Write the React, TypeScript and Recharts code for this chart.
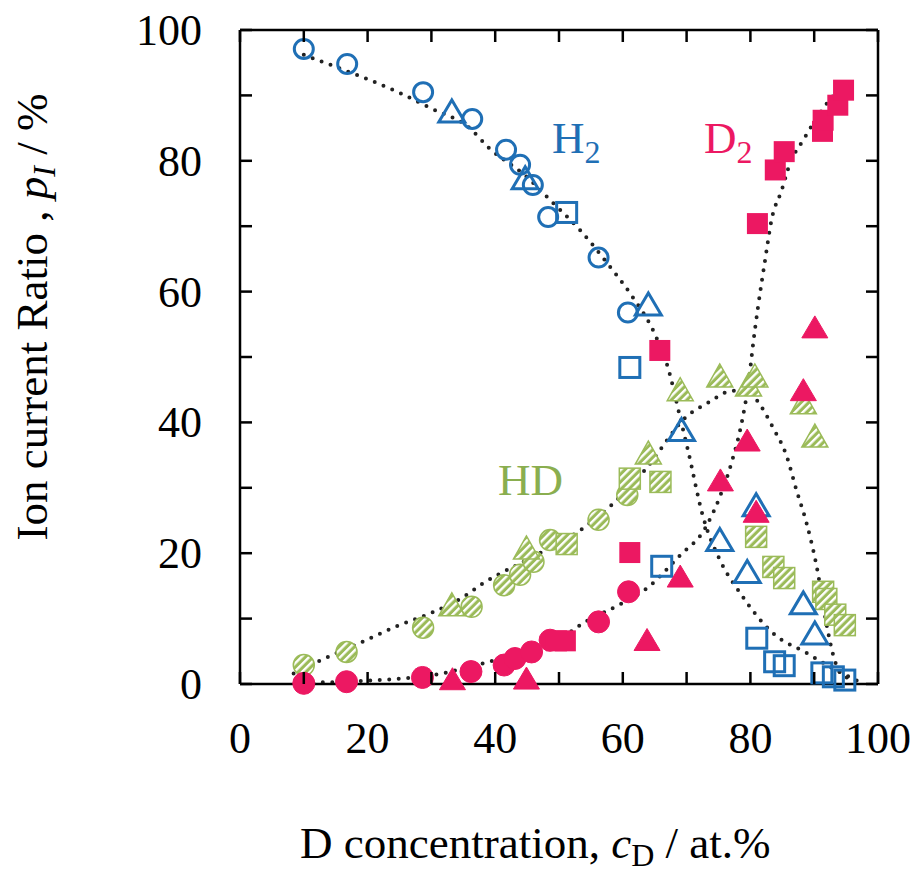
import { ComposedChart, Scatter, Line, XAxis, YAxis } from 'recharts';

const BLUE = '#1f6fb5';
const PINK = '#ec1862';
const GREEN = '#9bbb59';
const SERIF = '"Liberation Serif", "Times New Roman", serif';

type Pt = { x: number; y: number };
const pts = (a: number[][]): Pt[] => a.map(([x, y]) => ({ x, y }));

// H2 (blue, open markers)
const h2Circles = pts([[10, 97.1], [16.8, 94.8], [28.7, 90.5], [36.4, 86.4], [41.7, 81.7], [43.9, 79.4], [45.9, 76.3], [48.3, 71.4], [56.2, 65.2], [60.8, 56.8]]);
const h2Triangles = pts([[33.2, 87.3], [44.7, 77.1], [64.0, 57.8], [69.2, 38.6], [75.2, 21.8], [79.5, 16.9], [80.9, 27.1], [88.3, 12.1], [90.1, 7.5]]);
const h2Squares = pts([[51.2, 72.1], [61.1, 48.4], [66.1, 18.0], [81.0, 7.0], [83.8, 3.4], [85.3, 2.8], [91.2, 1.7], [93.0, 1.1], [94.8, 0.6]]);

// D2 (pink, filled markers)
const d2Circles = pts([[10, 0.1], [16.7, 0.35], [28.6, 1.0], [36.2, 1.9], [41.4, 2.9], [43.1, 3.9], [45.7, 4.9], [48.6, 6.7], [56.2, 9.5], [60.9, 14.1]]);
const d2Triangles = pts([[33.3, 0.5], [44.9, 0.6], [63.8, 6.5], [69.0, 16.2], [75.3, 30.9], [79.5, 37.0], [80.9, 26.1], [88.3, 44.7], [90.1, 54.3]]);
const d2Squares = pts([[49.6, 6.6], [51.0, 6.6], [61.1, 20.1], [65.8, 51.0], [81.1, 70.4], [83.9, 78.6], [85.3, 81.4], [91.3, 84.5], [91.4, 86.2], [93.7, 88.5], [94.6, 90.8]]);

// HD (green, hatched markers)
const hdCircles = pts([[10, 2.9], [16.7, 4.9], [28.7, 8.6], [36.3, 11.8], [41.4, 15.1], [43.9, 16.7], [46.0, 18.7], [48.6, 22.0], [56.2, 25.1], [60.7, 28.9]]);
const hdTriangles = pts([[33.2, 11.8], [44.9, 20.5], [64.0, 35.0], [69.0, 44.7], [75.2, 46.8], [79.7, 45.4], [80.7, 46.8], [88.3, 42.7], [90.1, 37.6]]);
const hdSquares = pts([[51.2, 21.4], [61.1, 31.4], [65.9, 30.9], [80.9, 22.5], [83.6, 17.9], [85.3, 16.2], [91.4, 14.1], [91.9, 13.0], [93.3, 10.6], [94.8, 9.0]]);

// dotted guide curves
const h2Fit = pts([[10, 96.2], [16, 94], [25, 90.4], [30, 88], [36, 85], [39, 82], [45, 77.5], [48.6, 74], [53.3, 69.4], [58, 63.8], [61.1, 59.8], [65.3, 52.9], [67.1, 48.3], [69, 40.7], [70.2, 35.8], [72.6, 25.5], [75.2, 19], [78.4, 13.9], [83.5, 7.8], [88.9, 4.7], [92.5, 2.6], [97.2, 0.3]]);
const d2Fit = pts([[10, 0.2], [15, 0.3], [20, 0.5], [25, 0.8], [30, 1.3], [33, 1.9], [39, 3.4], [45, 5], [50, 6.8], [53.8, 9.3], [59.8, 12.3], [63.7, 14.6], [69, 19.7], [72.9, 23.8], [75.2, 28.6], [77, 33.7], [78.6, 39.8], [79.7, 46], [80.5, 52.6], [81.2, 57.7], [82.3, 64.8], [83.3, 70.9], [84.9, 75.5], [86.2, 79.6], [88.3, 83.2], [91.4, 88], [93, 90]]);
const hdFit = pts([[8.4, 1.6], [12.8, 3.7], [19.3, 6.5], [24.5, 8.8], [29.8, 10.8], [35, 13.3], [38.1, 15.4], [45, 19], [53.3, 23.5], [58.5, 27.6], [63.7, 33], [70, 40.9], [73.7, 43.2], [76.5, 44.7], [79.4, 45], [81, 43.4], [83.6, 39.1], [85.7, 34.8], [87.2, 29.7], [88.8, 24.6], [90.4, 17.9], [91.9, 9.3], [92.9, 4.7], [94.2, 1.6], [97.2, 0.35]]);

const xTicks = [0, 10, 20, 30, 40, 50, 60, 70, 80, 90, 100];
const yTicks = [0, 10, 20, 30, 40, 50, 60, 70, 80, 90, 100];

const openCircle = (c: string) => (p: any) => <circle cx={p.cx} cy={p.cy} r={9.5} fill="none" stroke={c} strokeWidth={3} />;
const fillCircle = (c: string) => (p: any) => <circle cx={p.cx} cy={p.cy} r={11} fill={c} stroke={c} strokeWidth={1} />;
const openTri = (c: string) => (p: any) => (
  <polygon points={`${p.cx},${p.cy - 13} ${p.cx - 13},${p.cy + 9} ${p.cx + 13},${p.cy + 9}`} fill="none" stroke={c} strokeWidth={3} strokeLinejoin="miter" />
);
const fillTri = (c: string) => (p: any) => (
  <polygon points={`${p.cx},${p.cy - 13} ${p.cx - 13},${p.cy + 9} ${p.cx + 13},${p.cy + 9}`} fill={c} stroke={c} strokeWidth={1} />
);
const openSq = (c: string) => (p: any) => <rect x={p.cx - 10} y={p.cy - 10} width={20} height={20} fill="none" stroke={c} strokeWidth={3} />;
const fillSq = (c: string) => (p: any) => <rect x={p.cx - 10.5} y={p.cy - 10.5} width={21} height={21} fill={c} />;
const HATCH = 'url(#hd-hatch)';
const hatchCircle = (p: any) => <circle cx={p.cx} cy={p.cy} r={10.5} fill={HATCH} stroke={GREEN} strokeWidth={1.5} />;
const hatchTri = (p: any) => (
  <polygon points={`${p.cx},${p.cy - 14} ${p.cx - 13},${p.cy + 9} ${p.cx + 13},${p.cy + 9}`} fill={HATCH} stroke={GREEN} strokeWidth={1.5} />
);
const hatchSq = (p: any) => <rect x={p.cx - 10.5} y={p.cy - 10.5} width={21} height={21} fill={HATCH} stroke={GREEN} strokeWidth={1.5} />;

const TICK = 12;
const AX = 2.5;

function BottomTick({ x, y, payload }: any) {
  const v = payload.value;
  return (
    <g>
      <line x1={x} y1={y} x2={x} y2={y - TICK} stroke="#000" strokeWidth={AX} />
      {v % 20 === 0 && (
        <text x={x} y={y + 69} textAnchor="middle" fontFamily={SERIF} fontSize={44} fill="#000">{v}</text>
      )}
    </g>
  );
}
function TopTick({ x, y }: any) {
  return <line x1={x} y1={y} x2={x} y2={y + TICK} stroke="#000" strokeWidth={AX} />;
}
function LeftTick({ x, y, payload }: any) {
  const v = payload.value;
  return (
    <g>
      <line x1={x} y1={y} x2={x + TICK} y2={y} stroke="#000" strokeWidth={AX} />
      {v % 20 === 0 && (
        <text x={x - 38} y={y + 15} textAnchor="end" fontFamily={SERIF} fontSize={44} fill="#000">{v}</text>
      )}
    </g>
  );
}
function RightTick({ x, y }: any) {
  return <line x1={x} y1={y} x2={x - TICK} y2={y} stroke="#000" strokeWidth={AX} />;
}

const dotted = { stroke: '#222', strokeWidth: 4, strokeDasharray: '0 9.5', strokeLinecap: 'round' as const };

export default function App() {
  return (
    <div style={{ position: 'absolute', left: 0, top: 0, width: 918, height: 872, background: '#fff' }}>
      <svg width={0} height={0} style={{ position: 'absolute' }}>
        <defs>
          <pattern id="hd-hatch" patternUnits="userSpaceOnUse" width={5.5} height={5.5} patternTransform="rotate(45)">
            <rect width={5.5} height={5.5} fill={GREEN} />
            <rect width={2.4} height={5.5} fill="#fff" />
          </pattern>
        </defs>
      </svg>
      <ComposedChart width={918} height={872} margin={{ top: 29, right: 39, bottom: 0, left: 160 }}>
        <XAxis dataKey="x" type="number" domain={[0, 100]} ticks={xTicks} interval={0} height={188}
          tickLine={false} tickSize={0} tickMargin={0} tick={<BottomTick />} axisLine={{ stroke: '#000', strokeWidth: AX }} />
        <XAxis xAxisId="top" orientation="top" dataKey="x" type="number" domain={[0, 100]} ticks={xTicks} interval={0} height={1}
          tickLine={false} tickSize={0} tickMargin={0} tick={<TopTick />} axisLine={{ stroke: '#000', strokeWidth: AX }} />
        <YAxis dataKey="y" type="number" domain={[0, 100]} ticks={yTicks} interval={0} width={80}
          tickLine={false} tickSize={0} tickMargin={0} tick={<LeftTick />} axisLine={{ stroke: '#000', strokeWidth: AX }} />
        <YAxis yAxisId="right" orientation="right" dataKey="y" type="number" domain={[0, 100]} ticks={yTicks} interval={0} width={1}
          tickLine={false} tickSize={0} tickMargin={0} tick={<RightTick />} axisLine={{ stroke: '#000', strokeWidth: AX }} />

        <Line data={h2Fit} dataKey="y" type="monotone" {...dotted} dot={false} activeDot={false} isAnimationActive={false} />
        <Line data={d2Fit} dataKey="y" type="monotone" {...dotted} dot={false} activeDot={false} isAnimationActive={false} />
        <Line data={hdFit} xAxisId="top" yAxisId="right" dataKey="y" type="monotone" {...dotted} dot={false} activeDot={false} isAnimationActive={false} />

        <Scatter data={hdCircles} shape={hatchCircle} isAnimationActive={false} />
        <Scatter data={hdTriangles} shape={hatchTri} isAnimationActive={false} />
        <Scatter data={hdSquares} shape={hatchSq} isAnimationActive={false} />
        <Scatter data={h2Circles} shape={openCircle(BLUE)} isAnimationActive={false} />
        <Scatter data={h2Triangles} shape={openTri(BLUE)} isAnimationActive={false} />
        <Scatter data={h2Squares} shape={openSq(BLUE)} isAnimationActive={false} />
        <Scatter data={d2Circles} shape={fillCircle(PINK)} isAnimationActive={false} />
        <Scatter data={d2Triangles} shape={fillTri(PINK)} isAnimationActive={false} />
        <Scatter data={d2Squares} shape={fillSq(PINK)} isAnimationActive={false} />
      </ComposedChart>
      <svg width={918} height={872} style={{ position: 'absolute', left: 0, top: 0, pointerEvents: 'none' }} fontFamily={SERIF}>
        <text x={552} y={153} fontSize={45} fill={BLUE}>H<tspan fontSize={32} dy={10}>2</tspan></text>
        <text x={704} y={153} fontSize={45} fill={PINK}>D<tspan fontSize={32} dy={10}>2</tspan></text>
        <text x={498} y={495} fontSize={45} fill="#8aae4f">HD</text>
        <text x={300} y={858} fontSize={45} fill="#000">
          D concentration, <tspan fontStyle="italic">c</tspan><tspan fontSize={32} dy={8}>D</tspan><tspan dy={-8}> / at.%</tspan>
        </text>
        <text x={47} y={317} fontSize={45} fill="#000" textAnchor="middle" transform="rotate(-90 47 317)">
          Ion current Ratio , <tspan fontStyle="italic">p</tspan><tspan fontSize={32} fontStyle="italic" dy={8}>I</tspan><tspan dy={-8}> / %</tspan>
        </text>
      </svg>
    </div>
  );
}
